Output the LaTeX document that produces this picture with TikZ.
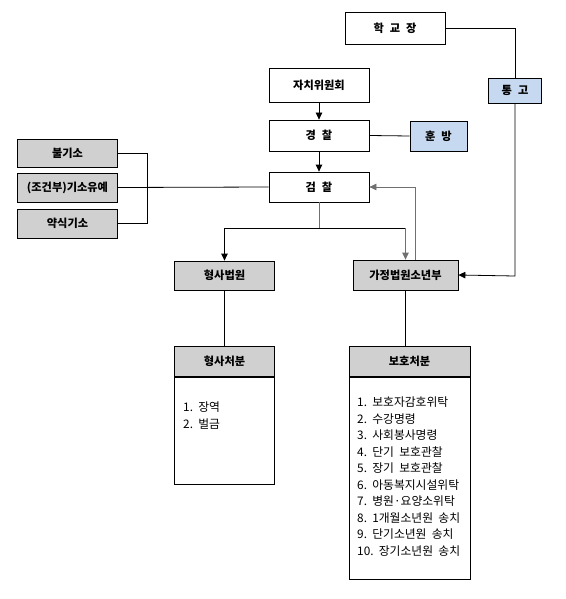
\documentclass[tikz,border=0pt]{standalone}
\usepackage{fontspec}
\setmainfont{Noto Sans CJK KR}
\usetikzlibrary{arrows.meta}
\definecolor{boxgray}{HTML}{D0D0D0}
\definecolor{boxblue}{HTML}{C6D9F0}
\definecolor{linegray}{HTML}{707070}
\newcommand{\gp}{\hspace{6pt}}
\begin{document}
\begin{tikzpicture}[x=1pt,y=-1pt,
  base/.style={draw=black, line width=0.8pt, inner sep=0pt,
    font=\fontsize{11.2}{13}\selectfont\bfseries},
  wbox/.style={base, fill=white},
  gbox/.style={base, fill=boxgray},
  bbox/.style={base, fill=boxblue},
  conn/.style={line width=0.8pt, draw=black},
  gconn/.style={line width=0.8pt, draw=linegray},
  arr/.style={-{Triangle[length=7pt,width=6.5pt]}},
  items/.style={inner sep=0pt, align=left, anchor=north west,
    font=\fontsize{11.8}{16.5}\selectfont}
]
\useasboundingbox (0,0) rectangle (565,599);
\fill[white] (0,0) rectangle (565,599);

% top nodes
\node[wbox, minimum width=100pt, minimum height=32pt] (hak) at (395,28) {학\gp 교\gp 장};
\node[wbox, minimum width=100pt, minimum height=34pt] (jachi) at (319,85) {자치위원회};
\node[wbox, minimum width=100pt, minimum height=31pt] (gyeong) at (319,135.5) {경\gp 찰};
\node[bbox, minimum width=57pt, minimum height=30pt] (hun) at (438.5,136) {훈\gp 방};
\node[bbox, minimum width=53pt, minimum height=25pt] (tong) at (515,90.5) {통\gp 고};
\node[wbox, minimum width=100pt, minimum height=30pt] (geom) at (319,187) {검\gp 찰};

% left decisions
\node[gbox, minimum width=100pt, minimum height=28pt] (bul) at (67.5,153) {불기소};
\node[gbox, minimum width=100pt, minimum height=29pt] (jo) at (67.5,187.5) {(조건부)기소유예};
\node[gbox, minimum width=100pt, minimum height=29pt] (yak) at (67.5,223.5) {약식기소};

% courts
\node[gbox, minimum width=100pt, minimum height=29pt] (hcourt) at (224.5,275.5) {형사법원};
\node[gbox, minimum width=105pt, minimum height=30pt] (fcourt) at (405.5,275) {가정법원소년부};

% dispositions
\node[gbox, minimum width=100pt, minimum height=30pt, anchor=north] (hhead) at (224.5,346) {형사처분};
\node[draw=black, line width=0.8pt, inner sep=0pt, minimum width=100pt, minimum height=107pt, anchor=north] (hbody) at (hhead.south) {};
\node[gbox, minimum width=121pt, minimum height=30pt, anchor=north] (bhead) at (409.5,346) {보호처분};
\node[draw=black, line width=0.8pt, inner sep=0pt, minimum width=121pt, minimum height=202pt, anchor=north] (bbody) at (bhead.south) {};

\node[items] (hitems) at (183,402) {1.\ \ 장역\\2.\ \ 벌금};
\node[items] (bitems) at (357,397) {1.\ \ 보호자감호위탁\\2.\ \ 수강명령\\3.\ \ 사회봉사명령\\4.\ \ 단기\ \ 보호관찰\\5.\ \ 장기\ \ 보호관찰\\6.\ \ 아동복지시설위탁\\7.\ \ 병원·요양소위탁\\8.\ \ 1개월소년원\ \ 송치\\9.\ \ 단기소년원\ \ 송치\\10.\ \ 장기소년원\ \ 송치};

% coordinates
\coordinate (tr) at (515,28);
\coordinate (tb) at (515,276);
\coordinate (br1) at (147,153);
\coordinate (br2) at (147,223.5);
\coordinate (split) at (319,228);
\coordinate (sl) at (224.5,228);
\coordinate (sr) at (405.5,228);
\coordinate (ret) at (415,187);

% connectors
\draw[conn] (hak.east) -- (tr) -- (tong.north);
\draw[conn, arr] (tong.south) -- (tb) -- (fcourt.east);
\draw[conn, arr] (jachi.south) -- (gyeong.north);
\draw[conn, arr] (gyeong.south) -- (geom.north);
\draw[conn] (gyeong.east) -- (hun.west);
\draw[conn] (bul.east) -- (br1) -- (br2) -- (yak.east);
\draw[conn] (jo.east) -- (geom.west);
\draw[gconn] (geom.south) -- (split);
\draw[conn] (sl) -- (sr);
\draw[conn, arr] (sl) -- (hcourt.north);
\draw[gconn, arr] (sr) -- (fcourt.north);
\draw[gconn, arr] (fcourt.north -| ret) -- (ret) -- (geom.east);
\draw[conn] (hcourt.south) -- (hhead.north);
\draw[conn] (fcourt.south) -- (fcourt.south |- bhead.north);
\end{tikzpicture}
\end{document}
